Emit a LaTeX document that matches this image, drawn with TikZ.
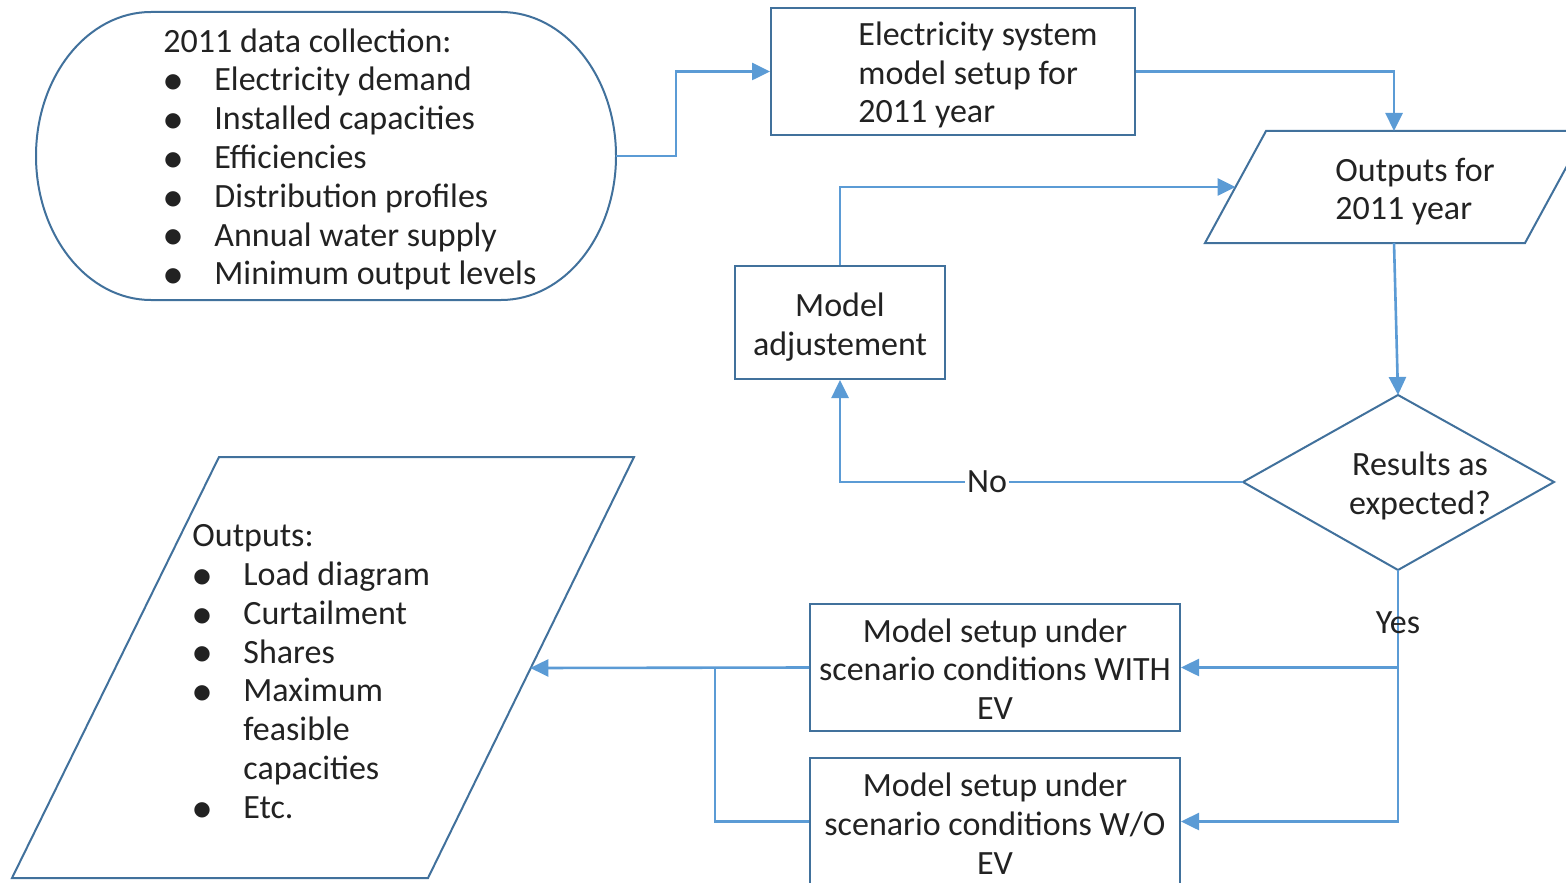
\documentclass[tikz,border=0pt]{standalone}
\usepackage{fontspec}
\setmainfont{Carlito}
\newfontfamily\dejavu{DejaVu Sans}
\usetikzlibrary{arrows.meta,calc}
\definecolor{shapeblue}{HTML}{41719C}
\definecolor{connblue}{HTML}{5B9BD5}
\definecolor{textc}{HTML}{222222}
\newcommand\bulitem{\makebox[25.5pt][l]{\hspace{0.5pt}\raisebox{1.6pt}{\dejavu\fontsize{10}{10}\selectfont ●}}}
\newcommand\contitem{\hspace*{25.5pt}}
\tikzset{
  every node/.style={font=\fontsize{17}{19.4}\selectfont, text=textc},
  shapeline/.style={draw=shapeblue, line width=1pt, line join=miter},
  box/.style={shapeline, fill=white, align=center, inner sep=0pt},
  txt/.style={inner sep=0pt, align=left},
  conn/.style={draw=connblue, line width=1.3pt, -{Triangle[length=9pt,width=8.5pt]}},
  connplain/.style={draw=connblue, line width=1.3pt},
  lblfill/.style={fill=white, inner sep=1pt},
  lbl/.style={inner sep=0pt}
}
\begin{document}
\begin{tikzpicture}[x=0.5pt,y=-0.5pt]
\useasboundingbox (0,0) rectangle (1566,882);
\fill[white] (0,0) rectangle (1566,882);

% data collection (terminator)
\draw[shapeline] (151,12) -- (501,12)
  arc[start angle=-90, end angle=90, x radius=115, y radius=144]
  -- (151,300)
  arc[start angle=90, end angle=270, x radius=115, y radius=144] -- cycle;
\coordinate (dataE) at (616,156);
\node[txt, anchor=west] (datat) at (163,159.5) {2011 data collection:\\
\bulitem Electricity demand\\
\bulitem Installed capacities\\
\bulitem Efficiencies\\
\bulitem Distribution profiles\\
\bulitem Annual water supply\\
\bulitem Minimum output levels};

% electricity system model setup
\node[box, minimum width=182pt, minimum height=63.5pt] (r1) at (953,71.5) {};
\node[txt, anchor=west] (r1t) at (858,75) {Electricity system\\model setup for\\2011 year};

% outputs for 2011 year (parallelogram)
\draw[shapeline] (1266,131) -- (1586,131) -- (1525,243) -- (1205,243) -- cycle;
\coordinate (p1top) at (1394,131);
\coordinate (p1bot) at (1394,243);
\coordinate (p1left) at (1235.5,187);
\node[txt, anchor=west] (p1t) at (1335,191.5) {Outputs for\\2011 year};

% model adjustement
\node[box, minimum width=105pt, minimum height=56.5pt] (adj) at (840,322.5) {};
\node[txt, align=center] (adjt) at (840,327) {Model\\adjustement};

% decision diamond
\coordinate (dtop) at (1398,395);
\coordinate (dright) at (1554,482);
\coordinate (dbot) at (1398,570);
\coordinate (dleft) at (1243,482);
\draw[shapeline] (dtop) -- (dright) -- (dbot) -- (dleft) -- cycle;
\node[txt, align=center] (dt) at (1420,486) {Results as\\expected?};

% scenario boxes
\node[box, minimum width=185pt, minimum height=63.5pt] (w) at (995,667.5) {};
\node[txt, align=center] (wt) at (995,669) {Model setup under\\scenario conditions WITH\\EV};
\node[box, minimum width=185pt, minimum height=63.5pt] (wo) at (995,821.5) {};
\node[txt, align=center] (wot) at (995,823.5) {Model setup under\\scenario conditions W/O\\EV};

% final outputs (parallelogram)
\draw[shapeline] (219,457) -- (634,457) -- (428,878) -- (12,878) -- cycle;
\coordinate (p2r) at (530.3,668);
\node[txt, anchor=west] (p2t) at (192,671.5) {Outputs:\\
\bulitem Load diagram\\
\bulitem Curtailment\\
\bulitem Shares\\
\bulitem Maximum\\
\contitem feasible\\
\contitem capacities\\
\bulitem Etc.};

% connectors
\draw[conn] (dataE) -- ++(60,0) |- (r1.west);
\draw[conn] (r1.east) -| (p1top);
\draw[conn] (p1bot) -- (dtop);
\draw[conn] (dleft) -- node[lblfill, pos=0.635]{No} (adj.south |- dleft) -- (adj.south);
\draw[conn] (adj.north) |- (p1left);
\draw[conn] (dbot) -- node[lbl, pos=0.21]{Yes} (dbot |- wo.east) -- (wo.east);
\draw[conn] (dbot |- w.east) -- (w.east);
\draw[conn] (w.west) -- (p2r);
\coordinate (j) at (715,668);
\draw[connplain] (wo.west) -| (j);
\end{tikzpicture}
\end{document}
